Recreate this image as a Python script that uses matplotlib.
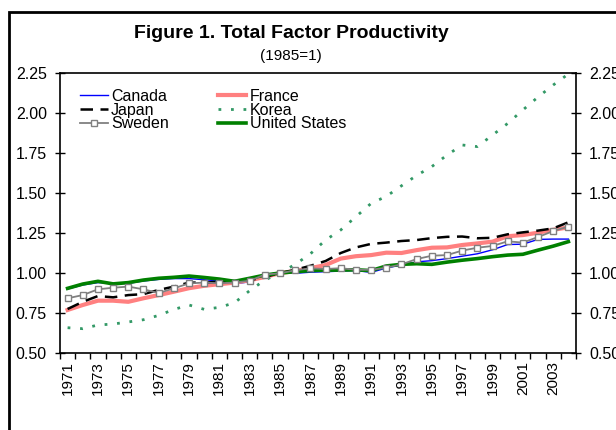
import numpy as np
import matplotlib
matplotlib.use('Agg')
import matplotlib.pyplot as plt
from matplotlib.patches import Rectangle
from matplotlib.ticker import FixedLocator, FormatStrFormatter

plt.rcParams['font.family'] = ['Liberation Sans', 'DejaVu Sans']

# Total factor productivity, 1985 = 1
years = np.arange(1971, 2005)

canada = [0.900, 0.925, 0.940, 0.935, 0.935, 0.950, 0.960, 0.965, 0.965, 0.958,
          0.950, 0.932, 0.945, 0.982, 1.000, 0.998, 1.005, 1.008, 1.012, 1.015,
          1.004, 1.031, 1.050, 1.070, 1.077, 1.090, 1.105, 1.120, 1.145, 1.178,
          1.180, 1.210, 1.212, 1.212]
france = [0.769, 0.800, 0.827, 0.827, 0.820, 0.842, 0.862, 0.883, 0.905, 0.920,
          0.930, 0.940, 0.955, 0.975, 1.000, 1.012, 1.030, 1.050, 1.090, 1.105,
          1.112, 1.127, 1.125, 1.143, 1.158, 1.160, 1.175, 1.185, 1.196, 1.230,
          1.237, 1.252, 1.270, 1.285]
japan = [0.775, 0.820, 0.856, 0.848, 0.862, 0.868, 0.894, 0.915, 0.940, 0.940,
         0.945, 0.950, 0.955, 0.975, 1.000, 1.020, 1.045, 1.075, 1.125, 1.160,
         1.182, 1.190, 1.200, 1.206, 1.218, 1.226, 1.228, 1.217, 1.220, 1.242,
         1.254, 1.265, 1.279, 1.317]
korea = [0.658, 0.652, 0.675, 0.681, 0.694, 0.708, 0.735, 0.772, 0.800, 0.773,
         0.785, 0.814, 0.890, 0.956, 1.000, 1.054, 1.120, 1.206, 1.269, 1.352,
         1.435, 1.479, 1.545, 1.610, 1.665, 1.737, 1.800, 1.790, 1.862, 1.935,
         2.019, 2.100, 2.175, 2.244]
sweden = [0.842, 0.862, 0.898, 0.908, 0.915, 0.898, 0.875, 0.904, 0.935, 0.940,
          0.936, 0.940, 0.952, 0.990, 0.998, 1.017, 1.029, 1.025, 1.030, 1.020,
          1.020, 1.033, 1.054, 1.087, 1.108, 1.112, 1.140, 1.158, 1.169, 1.198,
          1.190, 1.225, 1.262, 1.290]
usa = [0.904, 0.931, 0.948, 0.932, 0.940, 0.956, 0.967, 0.973, 0.981, 0.972,
       0.962, 0.948, 0.967, 0.987, 1.000, 1.008, 1.015, 1.018, 1.018, 1.020,
       1.015, 1.044, 1.054, 1.058, 1.054, 1.068, 1.080, 1.090, 1.102, 1.112,
       1.117, 1.143, 1.168, 1.196]

fig = plt.figure(figsize=(6.16, 4.30), dpi=100)
ax = fig.add_axes([60 / 616, 77 / 430, 516 / 616, 280 / 430])

l_can, = ax.plot(years, canada, color='#0000FF', lw=1.0, label='Canada', zorder=3)
l_fra, = ax.plot(years, france, color='#FF8080', lw=3.0, label='France', zorder=3)
l_jpn, = ax.plot(years, japan, color='black', lw=1.8, dashes=(5, 3), label='Japan', zorder=4)
l_kor, = ax.plot(years, korea, color='#339966', lw=2.0, dashes=(1, 3.5), label='Korea', zorder=4)
l_swe, = ax.plot(years, sweden, color='#808080', lw=1.3, marker='s', ms=5,
                 mfc='white', mec='#808080', mew=1.0, label='Sweden', zorder=6)
l_usa, = ax.plot(years, usa, color='#008000', lw=2.6, label='United States', zorder=5)

ax.set_xlim(1970.5, 2004.5)
ax.set_ylim(0.5, 2.25)

ax.set_yticks(np.arange(0.5, 2.26, 0.25))
ax.yaxis.set_major_formatter(FormatStrFormatter('%.2f'))
ax.tick_params(axis='y', which='both', direction='inout', length=7, width=1,
               labelsize=11.5, pad=6, left=True, right=True,
               labelleft=True, labelright=True)

ax.set_xticks(years[::2])
ax.set_xticklabels([str(y) for y in years[::2]], rotation=90)
ax.xaxis.set_minor_locator(FixedLocator(np.arange(1970.5, 2005, 1.0)))
ax.tick_params(axis='x', which='major', length=0, labelsize=11, pad=6)
ax.tick_params(axis='x', which='minor', direction='out', length=4, width=1)

for s in ax.spines.values():
    s.set_linewidth(1.2)

# legend filled column by column, as in the original
handles = [l_can, l_jpn, l_swe, l_fra, l_kor, l_usa]
ax.legend(handles=handles, labels=[h.get_label() for h in handles],
          loc='upper left', ncol=2, frameon=False, fontsize=11.5,
          handlelength=1.75, handletextpad=0.2, columnspacing=3.1,
          labelspacing=-0.08, borderaxespad=0.0, borderpad=0.0,
          bbox_to_anchor=(20 / 516, 1 - 16 / 280))

fig.text(291 / 616, 1 - 33 / 430, 'Figure 1. Total Factor Productivity',
         ha='center', va='center', fontsize=14, fontweight='bold')
fig.text(291 / 616, 1 - 56 / 430, '(1985=1)', ha='center', va='center',
         fontsize=11)

# outer chart frame
fig.patches.append(Rectangle((9 / 616, -0.2), 1.2, 1 - 12 / 430 + 0.2,
                             transform=fig.transFigure, fill=False,
                             edgecolor='black', lw=2.0))

fig.savefig('out.png', dpi=100)
